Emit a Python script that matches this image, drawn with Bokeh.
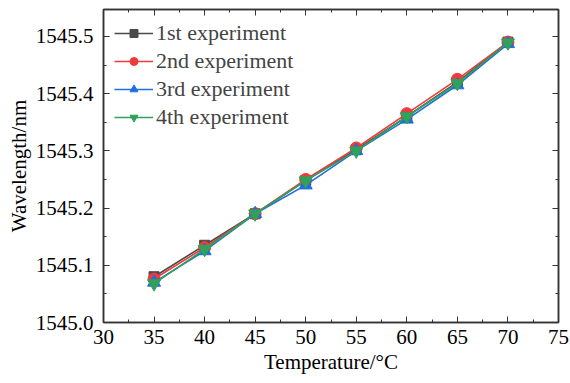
from bokeh.plotting import figure
from bokeh.models import LinearAxis, FixedTicker, NumeralTickFormatter, Range1d, Legend, LegendItem, CustomJSTickFormatter
from bokeh.embed import file_html
from bokeh.resources import INLINE

temps = [35, 40, 45, 50, 55, 60, 65, 70]
exp1 = [1545.080, 1545.135, 1545.190, 1545.248, 1545.302, 1545.360, 1545.420, 1545.490]
exp2 = [1545.076, 1545.131, 1545.190, 1545.250, 1545.305, 1545.365, 1545.425, 1545.490]
exp3 = [1545.070, 1545.125, 1545.190, 1545.240, 1545.300, 1545.355, 1545.415, 1545.487]
exp4 = [1545.068, 1545.128, 1545.190, 1545.248, 1545.300, 1545.360, 1545.418, 1545.489]
labels = ["1st experiment", "2nd experiment", "3rd experiment", "4th experiment"]
x_ticks = [30, 35, 40, 45, 50, 55, 60, 65, 70, 75]
x_minor = [32.5, 37.5, 42.5, 47.5, 52.5, 57.5, 62.5, 67.5, 72.5]
y_ticks = [1545.0, 1545.1, 1545.2, 1545.3, 1545.4, 1545.5]
y_minor = [1545.05, 1545.15, 1545.25, 1545.35, 1545.45]

FONT = "Liberation Serif"
AX = "#333333"

p = figure(width=570, height=383, output_backend="svg", toolbar_location=None,
           x_range=Range1d(30, 75), y_range=Range1d(1545.0, 1545.547),
           min_border_left=103, min_border_right=12, min_border_top=9, min_border_bottom=61)
p.grid.visible = False
p.outline_line_color = AX
p.outline_line_width = 1.5

series = [(exp1, "#4a4a4a", "square", 10), (exp2, "#ee3a3a", "circle", 12),
          (exp3, "#1f6fdc", "triangle", 13), (exp4, "#30a05a", "inverted_triangle", 13)]
items = []
for (ys, col, mk, sz), lab in zip(series, labels):
    l = p.line(temps, ys, line_color=col, line_width=1.6)
    m = p.scatter(temps, ys, marker=mk, size=sz, fill_color=col, line_color=col)
    items.append(LegendItem(label=lab, renderers=[l, m]))

leg = Legend(items=items, location="top_left", border_line_color=None, background_fill_alpha=0,
             label_text_font=FONT, label_text_font_size="22px", glyph_width=39, glyph_height=20,
             label_height=20, spacing=2, margin=11, padding=1, label_standoff=3)
p.add_layout(leg)

xa = p.xaxis[0]
xa.ticker = FixedTicker(ticks=x_ticks, minor_ticks=x_minor)
ya = p.yaxis[0]
ya.ticker = FixedTicker(ticks=y_ticks, minor_ticks=y_minor)
for ax in (xa, ya):
    for k in ["axis_line_color", "major_tick_line_color", "minor_tick_line_color"]:
        setattr(ax, k, AX)
    ax.axis_line_width = 1.5
    ax.major_tick_in = 6; ax.major_tick_out = 0
    ax.minor_tick_in = 3; ax.minor_tick_out = 0
    ax.major_label_text_font = FONT
    ax.major_label_text_font_size = "21px"
    ax.major_label_text_color = "black"
    ax.axis_label_text_font = FONT
    ax.axis_label_text_font_style = "normal"
    ax.axis_label_text_font_size = "21px"
    ax.axis_label_text_color = "black"
xa.axis_label = "Temperature/°C"
ya.axis_label = "Wavelength/nm"
ya.formatter = NumeralTickFormatter(format="0.0")
xa.major_label_standoff = 7
xa.axis_label_standoff = 3
ya.major_label_standoff = 10
ya.axis_label_standoff = 2

top = LinearAxis(ticker=FixedTicker(ticks=x_ticks, minor_ticks=x_minor))
right = LinearAxis(ticker=FixedTicker(ticks=y_ticks, minor_ticks=y_minor))
for ax in (top, right):
    for k in ["axis_line_color", "major_tick_line_color", "minor_tick_line_color"]:
        setattr(ax, k, AX)
    ax.axis_line_width = 1.5
    ax.major_tick_in = 6; ax.major_tick_out = 0
    ax.minor_tick_in = 3; ax.minor_tick_out = 0
    ax.formatter = CustomJSTickFormatter(code="return ''")
    ax.major_label_standoff = 0
p.add_layout(top, "above")
p.add_layout(right, "right")

open("out.html", "w").write(file_html(p, INLINE))
